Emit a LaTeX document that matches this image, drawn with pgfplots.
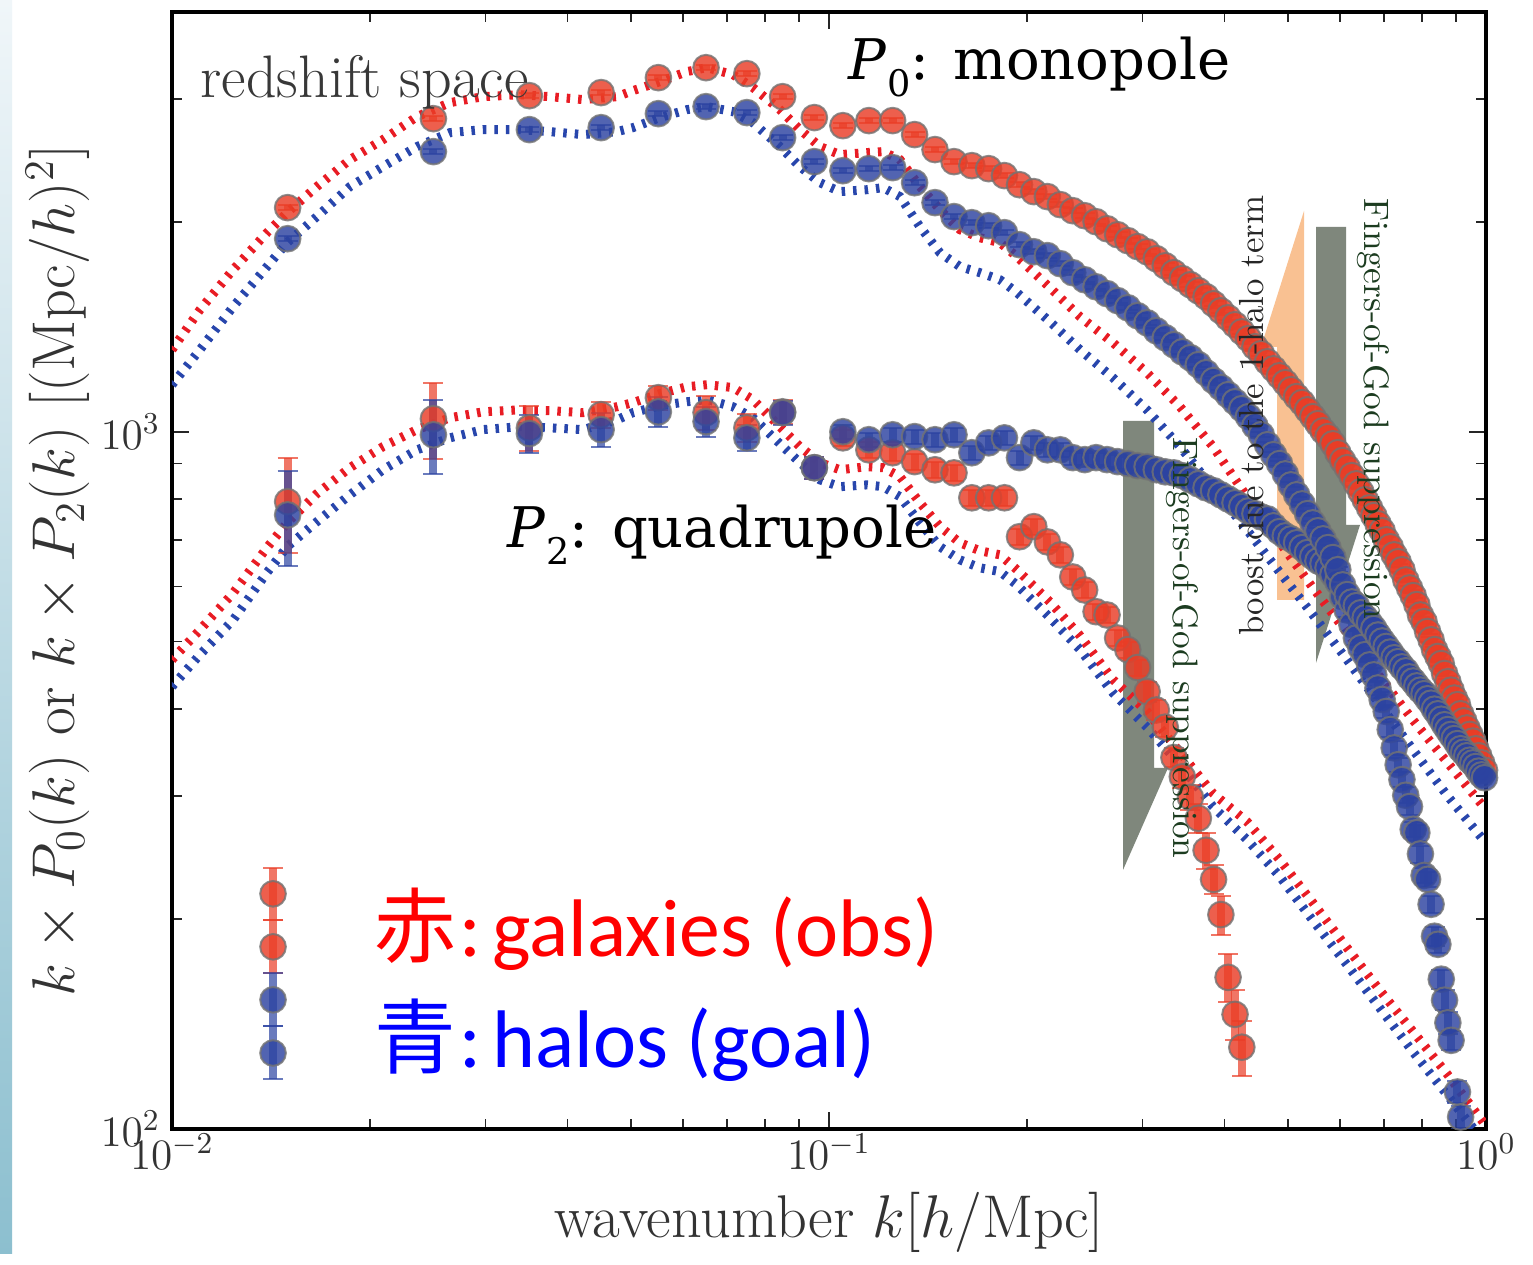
\RequirePackage{fix-cm}
\documentclass[border=0pt]{standalone}
\usepackage{fontspec}
\usepackage{pgfplots}
\usepackage{pgfplotstable}
\pgfplotsset{compat=1.18}
\newfontfamily\dvs{DejaVu Serif}
\newfontfamily\carl{Carlito}
\newfontfamily\cjk{Noto Sans CJK JP}
\definecolor{mred}{RGB}{232,28,36}
\definecolor{mblue}{RGB}{40,70,172}
\definecolor{pred}{RGB}{234,61,38}
\definecolor{pblue}{RGB}{44,67,161}
\definecolor{arrgray}{RGB}{127,135,124}
\definecolor{arrorange}{RGB}{249,193,146}
\definecolor{fogtext}{RGB}{28,60,32}
\definecolor{stripTop}{RGB}{240,246,249}
\definecolor{stripBot}{RGB}{140,191,207}

% ---------- data: P0 (monopole) ----------
\pgfplotstableread{
k v
0.015 2096
0.025 2812
0.035 3034
0.045 3065
0.055 3220
0.065 3328
0.075 3263
0.085 3024
0.095 2822
0.105 2748
0.115 2794
0.125 2794
0.135 2668
0.145 2539
0.155 2440
0.165 2408
0.175 2384
0.185 2330
0.195 2261
0.205 2210
0.215 2174
0.225 2117
0.235 2075
0.245 2041
0.255 2001
0.265 1955
0.275 1917
0.285 1880
0.295 1843
0.305 1812
0.315 1771
0.325 1730
0.335 1691
0.345 1658
0.355 1625
0.365 1593
0.375 1562
0.385 1526
0.395 1491
0.405 1457
0.415 1424
0.425 1391
0.435 1360
0.445 1324
0.455 1294
0.465 1260
0.475 1231
0.485 1203
0.495 1176
0.505 1149
0.515 1123
0.525 1101
0.535 1075
0.545 1051
0.555 1027
0.565 1003
0.575 984
0.585 961
0.595 933
0.605 909
0.615 888
0.625 865
0.635 842
0.645 820
0.655 799
0.665 778
0.675 758
0.685 738
0.695 721
0.705 700
0.715 684
0.725 666
0.735 651
0.745 634
0.755 613
0.765 597
0.775 582
0.785 565
0.795 546
0.805 534
0.815 517
0.825 503
0.835 487
0.845 476
0.855 465
0.865 450
0.875 438
0.885 426
0.895 415
0.905 406
0.915 394
0.925 385
0.935 376
0.945 368
0.955 360
0.965 351
0.975 343
0.985 335
0.995 327
}\tabPzeroRed

\pgfplotstableread{
k v
0.015 1892
0.025 2522
0.035 2712
0.045 2730
0.055 2859
0.065 2926
0.075 2869
0.085 2641
0.095 2440
0.105 2368
0.115 2384
0.125 2392
0.135 2276
0.145 2131
0.155 2035
0.165 1995
0.175 1975
0.185 1930
0.195 1855
0.205 1812
0.215 1789
0.225 1742
0.235 1691
0.245 1652
0.255 1614
0.265 1578
0.275 1542
0.285 1506
0.295 1467
0.305 1433
0.315 1396
0.325 1364
0.335 1333
0.345 1302
0.355 1277
0.365 1248
0.375 1215
0.385 1184
0.395 1157
0.405 1130
0.415 1104
0.425 1079
0.435 1051
0.445 1020
0.455 990
0.465 958
0.475 927
0.485 900
0.495 870
0.505 839
0.515 812
0.525 788
0.535 763
0.545 740
0.555 721
0.565 702
0.575 682
0.585 660
0.595 634
0.605 603
0.615 584
0.625 570
0.635 563
0.645 550
0.655 541
0.665 532
0.675 522
0.685 511
0.695 501
0.705 492
0.715 483
0.725 474
0.735 468
0.745 460
0.755 454
0.765 445
0.775 439
0.785 432
0.795 426
0.805 421
0.815 414
0.825 408
0.835 400
0.845 394
0.855 387
0.865 380
0.875 374
0.885 368
0.895 363
0.905 357
0.915 351
0.925 347
0.935 343
0.945 338
0.955 335
0.965 331
0.975 326
0.985 322
0.995 319
}\tabPzeroBlue

% ---------- data: P2 (quadrupole) ----------
\pgfplotstableread{
k v e
0.015 794 123
0.025 1044 131
0.035 1013 74
0.045 1058 45
0.055 1119 44
0.065 1065 60
0.075 1013 47
0.085 1068 42
0.095 888 32
0.105 980 26
0.115 942 25
0.125 933 25
0.135 906 24
0.145 882 23
0.155 873 23
0.165 804 21
0.175 804 21
0.185 804 21
0.195 707 19
0.205 731 19
0.215 695 18
0.225 666 18
0.235 619 16
0.245 593 16
0.255 552 15
0.265 546 14
0.275 506 13
0.285 487 13
0.295 459 12
0.305 424 14
0.315 399 13
0.325 377 12
0.335 341 11
0.345 320 12
0.355 299 12
0.365 279 13
0.375 251 15
0.385 228 11
0.395 203 13
0.405 165 13
0.415 146 12
0.425 131 12
}\tabPtwoRed

\pgfplotstableread{
k v e
0.015 760 118
0.025 990 121
0.035 994 62
0.045 1007 56
0.055 1068 53
0.065 1034 51
0.075 980 42
0.085 1065 42
0.095 888 32
0.105 1000 23
0.115 974 22
0.125 990 23
0.135 984 23
0.145 974 22
0.155 990 23
0.165 933 22
0.175 964 22
0.185 980 23
0.195 918 21
0.205 964 22
0.215 942 22
0.225 942 22
0.235 918 21
0.245 912 21
0.255 918 21
0.265 912 21
0.275 906 21
0.285 900 21
0.295 894 21
0.305 891 21
0.315 882 20
0.325 876 20
0.335 873 20
0.345 865 20
0.355 853 20
0.365 842 19
0.375 831 19
0.385 823 19
0.395 812 19
0.405 801 19
0.415 791 18
0.425 781 18
0.435 770 18
0.445 763 18
0.455 755 17
0.465 750 17
0.475 733 17
0.485 719 17
0.495 709 16
0.505 702 16
0.515 693 16
0.525 682 16
0.535 671 15
0.545 662 15
0.555 653 15
0.565 647 15
0.575 638 15
0.585 624 14
0.595 609 14
0.605 580 13
0.615 555 13
0.625 529 12
0.635 506 12
0.645 490 11
0.655 479 11
0.665 463 11
0.675 448 10
0.685 429 10
0.695 413 10
0.705 397 9
0.715 374 9
0.725 352 8
0.735 333 8
0.745 317 8
0.755 301 8
0.765 290 8
0.775 269 7
0.785 266 7
0.795 248 7
0.805 231 6
0.815 228 6
0.825 210 6
0.835 189 6
0.845 184 5
0.855 164 5
0.865 153 5
0.875 142 5
0.885 134 4
0.905 113 4
0.915 104 4
}\tabPtwoBlue

% ---------- models (dotted) ----------
\pgfplotstableread{
k v
0.01000 1311
0.01103 1496
0.01239 1708
0.01395 1930
0.01497 2062
0.01662 2247
0.01866 2456
0.02095 2624
0.02360 2831
0.02649 2965
0.02974 3024
0.03386 3044
0.03761 3024
0.04223 2995
0.04757 3024
0.05031 3085
0.05530 3178
0.06080 3285
0.06520 3328
0.07143 3252
0.07661 3116
0.08422 2897
0.09034 2712
0.09689 2564
0.10393 2497
0.11424 2514
0.12084 2522
0.12825 2456
0.13757 2247
0.14755 2082
0.15827 1949
0.16975 1898
0.18208 1867
0.19327 1783
0.21696 1609
0.24101 1462
0.27056 1342
0.30481 1215
0.34217 1086
0.38413 952
0.43274 807
0.48581 693
0.54535 597
0.61437 515
0.68970 445
0.77427 386
0.87224 336
1.00000 287
}\modPzeroRed

\pgfplotstableread{
k v
0.01000 1168
0.01103 1311
0.01239 1511
0.01395 1725
0.01497 1867
0.01662 2035
0.01866 2247
0.02095 2400
0.02360 2564
0.02649 2685
0.02974 2712
0.03386 2712
0.03761 2694
0.04223 2668
0.04757 2694
0.05031 2730
0.05530 2822
0.06080 2897
0.06520 2926
0.07143 2878
0.07661 2775
0.08422 2564
0.09034 2400
0.09689 2276
0.10393 2210
0.11424 2224
0.12084 2239
0.12825 2174
0.13757 1968
0.14755 1806
0.15827 1725
0.16975 1691
0.18208 1652
0.19327 1583
0.21696 1438
0.24101 1311
0.27056 1195
0.30481 1075
0.34217 952
0.38413 831
0.43274 723
0.48581 628
0.54535 546
0.61437 471
0.68970 406
0.77427 350
0.87224 301
1.00000 257
}\modPzeroBlue

\pgfplotstableread{
k v
0.01000 471
0.01103 520
0.01239 587
0.01395 682
0.01497 740
0.01662 815
0.01866 888
0.02095 952
0.02360 1007
0.02649 1047
0.02974 1068
0.03386 1075
0.03761 1072
0.04223 1065
0.04757 1086
0.05031 1101
0.05530 1134
0.06080 1160
0.06520 1168
0.07143 1157
0.07661 1112
0.08422 1017
0.09034 952
0.09689 903
0.10393 882
0.11424 891
0.12084 888
0.12825 862
0.13757 791
0.14755 731
0.15827 693
0.16975 675
0.18208 666
0.19327 634
0.21696 570
0.24101 510
0.27056 441
0.30481 397
0.34217 347
0.38413 303
0.43274 276
0.48581 243
0.54535 211
0.61437 182
0.68970 158
0.77427 138
0.87224 120
1.00000 101
}\modPtwoRed

\pgfplotstableread{
k v
0.01000 431
0.01103 479
0.01239 537
0.01395 628
0.01497 684
0.01662 743
0.01866 812
0.02095 882
0.02360 942
0.02649 980
0.02974 1007
0.03386 1017
0.03761 1013
0.04223 1007
0.04757 1040
0.05031 1065
0.05530 1090
0.06080 1104
0.06520 1112
0.07143 1086
0.07661 1047
0.08422 961
0.09034 903
0.09689 853
0.10393 834
0.11424 839
0.12084 834
0.12825 807
0.13757 740
0.14755 684
0.15827 655
0.16975 638
0.18208 630
0.19327 603
0.21696 541
0.24101 487
0.27056 422
0.30481 377
0.34217 333
0.38413 290
0.43274 260
0.48581 230
0.54535 199
0.61437 172
0.68970 149
0.77427 129
0.87224 112
1.00000 95
}\modPtwoBlue

% ---------- legend error-bar samples ----------
\pgfplotstableread{
k v ep em
0.01425 217.4 19.4 17.9
0.01425 182.5 17.0 15.1
}\legRed
\pgfplotstableread{
k v ep em
0.01425 153.2 14.2 12.7
0.01425 128.5 12.0 10.5
}\legBlue

\pgfplotsset{
  model/.style={line width=2.7pt, dash pattern=on 1.05pt off 2.4pt, line cap=butt, no markers},
  pts/.style={only marks, mark=*, mark size=3.85pt,
    mark options={fill=#1, fill opacity=0.82, draw=black!55, draw opacity=0.8, line width=0.6pt}},
}

\begin{document}
\begin{tikzpicture}
\begin{scope}[x=0.3pt,y=-0.3pt,shift={(-172,-1129)}]
  \path[use as bounding box] (0,0) rectangle (1533,1254);
  \fill[white] (0,0) rectangle (1533,1254);
  % annotation arrows (behind the data)
  \fill[arrgray] (1123,421) -- (1154,421) -- (1154,768) -- (1168,768) -- (1123,870) -- cycle;
  \fill[arrorange] (1304,211) -- (1261,347) -- (1277,347) -- (1277,600) -- (1304,600) -- cycle;
  \fill[arrgray] (1316,227) -- (1346,227) -- (1346,525) -- (1360,525) -- (1316,663) -- cycle;
\end{scope}
\shade[top color=stripTop, bottom color=stripBot] (-51.6pt,-37.5pt) rectangle (-48pt,338.7pt);

\begin{axis}[
  at={(0,0)}, anchor=south west, scale only axis,
  width=394.2pt, height=335.1pt,
  xmode=log, ymode=log,
  xmin=0.01, xmax=1, ymin=100, ymax=4000,
  ytick={100,1000},
  minor ytick={200,300,400,500,600,700,800,900,2000,3000},
  axis line style={line width=1.2pt, black},
  tick align=inside,
  major tick length=5.1pt, minor tick length=3pt,
  tick style={line width=0.5pt, black!85},
  tick label style={font=\fontsize{13}{15}\selectfont, text=black!80},
  xticklabel style={yshift=2pt},
  xlabel={wavenumber $k[h/\mathrm{Mpc}]$},
  ylabel={$k\times P_0(k)$ or $k\times P_2(k)$ $[(\mathrm{Mpc}/h)^2]$},
  label style={font=\fontsize{18.1}{21}\selectfont, text=black!80},
  xlabel style={at={(axis description cs:0.5,-0.0976)}, anchor=base},
  ylabel style={at={(axis description cs:-0.0738,0.5)}, anchor=base},
]
% models
\addplot[mred, model] table[x=k,y=v] \modPzeroRed;
\addplot[mblue, model] table[x=k,y=v] \modPzeroBlue;
\addplot[mred, model] table[x=k,y=v] \modPtwoRed;
\addplot[mblue, model] table[x=k,y=v] \modPtwoBlue;
% quadrupole data
\addplot[pred, pts=pred, error bars/.cd, y dir=both, y explicit,
  error bar style={line width=2.4pt, opacity=0.7},
  error mark options={rotate=90, line width=0.6pt, mark size=3pt}]
  table[x=k,y=v,y error=e] \tabPtwoRed;
\addplot[pblue, pts=pblue, error bars/.cd, y dir=both, y explicit,
  error bar style={line width=2.4pt, opacity=0.7},
  error mark options={rotate=90, line width=0.6pt, mark size=3pt}]
  table[x=k,y=v,y error=e] \tabPtwoBlue;
% monopole data
\addplot[pred, pts=pred, error bars/.cd, y dir=both, y fixed relative=0.008,
  error bar style={line width=2.4pt, opacity=0.7},
  error mark options={rotate=90, line width=0.6pt, mark size=3pt}]
  table[x=k,y=v] \tabPzeroRed;
\addplot[pblue, pts=pblue, error bars/.cd, y dir=both, y fixed relative=0.008,
  error bar style={line width=2.4pt, opacity=0.7},
  error mark options={rotate=90, line width=0.6pt, mark size=3pt}]
  table[x=k,y=v] \tabPzeroBlue;
% legend samples
\addplot[pred, pts=pred, error bars/.cd, y dir=both, y explicit,
  error bar style={line width=2.4pt, opacity=0.7},
  error mark options={rotate=90, line width=0.6pt, mark size=3pt}]
  table[x=k,y=v,y error plus=ep,y error minus=em] \legRed;
\addplot[pblue, pts=pblue, error bars/.cd, y dir=both, y explicit,
  error bar style={line width=2.4pt, opacity=0.7},
  error mark options={rotate=90, line width=0.6pt, mark size=3pt}]
  table[x=k,y=v,y error plus=ep,y error minus=em] \legBlue;
\end{axis}

\begin{scope}[x=0.3pt,y=-0.3pt,shift={(-172,-1129)}]
  \node[anchor=base west, inner sep=0, text=black!78] at (200,98)
    {\fontsize{18}{20}\selectfont redshift space};
  \node[anchor=base west, inner sep=0] at (848,80)
    {\dvs\fontsize{16.8}{20}\selectfont\textit{P}\raisebox{-5pt}{\fontsize{11}{12}\selectfont 0}: monopole};
  \node[anchor=base west, inner sep=0] at (507,548)
    {\dvs\fontsize{16.8}{20}\selectfont\textit{P}\raisebox{-5pt}{\fontsize{11}{12}\selectfont 2}: quadrupole};
  \node[anchor=base west, inner sep=0, text=red] at (374,957)
    {\fontsize{24.5}{28}\selectfont{\cjk 赤}\kern1pt{\carl :}\kern3.3pt{\carl galaxies (obs)}};
  \node[anchor=base west, inner sep=0, text=blue] at (374,1068)
    {\fontsize{24.5}{28}\selectfont{\cjk 青}\kern1pt{\carl :}\kern3.3pt{\carl halos (goal)}};
  \node[rotate=-90, anchor=base west, inner sep=0, text=fogtext] at (1173,437)
    {\fontsize{10.6}{12}\selectfont Fingers-of-God suppression};
  \node[rotate=90, anchor=base west, inner sep=0, text=black!85] at (1263,636)
    {\fontsize{10.45}{12}\selectfont boost due to the 1-halo term};
  \node[rotate=-90, anchor=base west, inner sep=0, text=fogtext] at (1364,198)
    {\fontsize{10.6}{12}\selectfont Fingers-of-God suppression};
\end{scope}
\end{tikzpicture}
\end{document}
